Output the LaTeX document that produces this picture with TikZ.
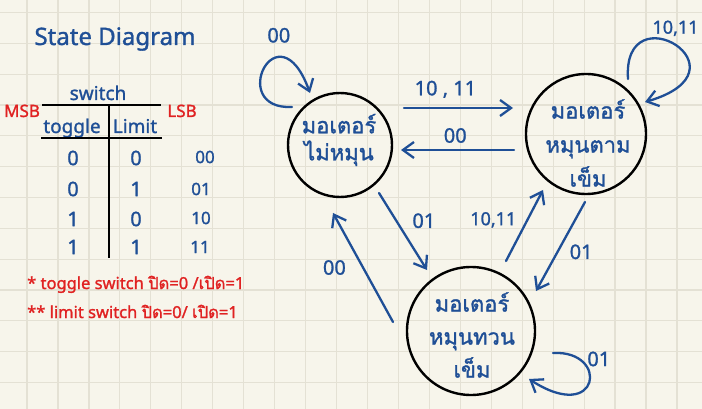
\documentclass[tikz,border=0pt]{standalone}
\usepackage{fontspec}
\setmainfont{Noto Sans}[FakeBold=1.3]
\newfontfamily\thaifont[Script=Thai, FakeBold=1.3]{Loma}
\usetikzlibrary{automata, positioning, arrows.meta}
\definecolor{paper}{HTML}{F7F5EB}
\definecolor{gridline}{HTML}{E4E1D4}
\definecolor{ink}{HTML}{1F4F96}
\definecolor{redink}{HTML}{E02222}
\tikzset{
	>={Straight Barb[length=11pt,width=16pt]}, % open pen-like arrow heads
	every state/.style={draw=black, line width=2.4pt, inner sep=0pt}, % the three motor states
	statetext/.style={text=ink, align=center, inner sep=0pt},
	trans/.style={->, draw=ink, line width=2.3pt, line cap=round}, % transitions between states
	edgetext/.style={text=ink, inner sep=1pt, font=\fontsize{20}{24}\selectfont}, % switch code on a transition
	inktext/.style={text=ink, inner sep=0pt, anchor=base},
	redtext/.style={text=redink, inner sep=0pt, anchor=base},
}

\begin{document}
\begin{tikzpicture}[x=1pt, y=-1pt]
	\useasboundingbox[fill=paper] (0,0) rectangle (702,409);
	\begin{scope}[shift={(27pt,-12.7pt)}]
		\draw[gridline, line width=1.2pt] (-27pt,-396.3pt) grid[xstep=30.95pt, ystep=30.8pt] (675pt,12.7pt);
	\end{scope}

	% truth table of the two switches
	\node[inktext, font=\fontsize{24}{28}\selectfont] (title) at (115,45) {State Diagram};
	\node[inktext, font=\fontsize{19}{22}\selectfont] (switch) at (98,100) {switch};
	\node[redtext, font=\fontsize{17}{20}\selectfont] (msb) at (22,117) {MSB};
	\node[redtext, font=\fontsize{17}{20}\selectfont] (lsb) at (182,117) {LSB};
	\node[inktext, font=\fontsize{19}{22}\selectfont] (toggle) at (72,133) {toggle};
	\node[inktext, font=\fontsize{19}{22}\selectfont] (limit) at (135,133) {Limit};
	\draw[line width=1.6pt] (42,105) -- (161,105);
	\draw[line width=1.6pt] (41,138) -- (162,138);
	\draw[line width=1.6pt] (109,105) -- (109,258);

	\node[edgetext] (t1) at (73,158) {0};
	\node[edgetext] (l1) at (136,158) {0};
	\node[edgetext, font=\fontsize{17}{20}\selectfont] (c1) at (205,157) {00};
	\node[edgetext] (t2) at (73,189) {0};
	\node[edgetext] (l2) at (136,189) {1};
	\node[edgetext, font=\fontsize{17}{20}\selectfont] (c2) at (201,189) {01};
	\node[edgetext] (t3) at (73,219) {1};
	\node[edgetext] (l3) at (136,219) {0};
	\node[edgetext, font=\fontsize{17}{20}\selectfont] (c3) at (201,218) {10};
	\node[edgetext] (t4) at (73,247) {1};
	\node[edgetext] (l4) at (136,247) {1};
	\node[edgetext, font=\fontsize{17}{20}\selectfont] (c4) at (200,247) {11};

	\node[redtext, anchor=base west, font=\fontsize{16.5}{20}\selectfont] (note1) at (27,289) {* toggle switch {\thaifont ปิด}=0 /{\thaifont เปิด}=1};
	\node[redtext, anchor=base west, font=\fontsize{16.5}{20}\selectfont] (note2) at (27,318) {** limit switch {\thaifont ปิด}=0/ {\thaifont เปิด}=1};

	% motor states
	\node[state, minimum size=104pt] (stop) at (340,145) {};
	\node[state, minimum size=120pt] (cw) at (586,134) {};
	\node[state, minimum size=128pt] (ccw) at (471,331) {};
	\node[statetext, font=\thaifont\fontsize{22}{27}\selectfont] (stoptext) at (339,140) {มอเตอร์\\ไม่หมุน};
	\node[statetext, font=\thaifont\fontsize{22}{34}\selectfont] (cwtext) at (588,143) {มอเตอร์\\หมุนตาม\\เข็ม};
	\node[statetext, font=\thaifont\fontsize{22}{33}\selectfont] (ccwtext) at (472,335) {มอเตอร์\\หมุนทวน\\เข็ม};

	\draw[trans] ([shift={(64,-37)}]stop.center) -- node[edgetext, above=8pt, pos=.38] (e1) {10 , 11} ([shift={(-73,-26)}]cw.center);
	\draw[trans] ([shift={(-72,16)}]cw.center) -- node[edgetext, above=5pt, pos=.52] (e2) {00} ([shift={(61,5)}]stop.center);
	\draw[trans] ([shift={(39,48)}]stop.center) -- node[edgetext, right=14pt, pos=.36] (e3) {01} ([shift={(-44,-61)}]ccw.center);
	\draw[trans] ([shift={(-78,-9)}]ccw.center) -- node[edgetext, left=15pt, pos=.5] (e4) {00} ([shift={(-7,68)}]stop.center);
	\draw[trans] ([shift={(35,-70)}]ccw.center) -- node[edgetext, left=9pt, pos=.58, font=\fontsize{18}{22}\selectfont] (e5) {10,11} ([shift={(-43,56)}]cw.center);
	\draw[trans] ([shift={(-1,68)}]cw.center) -- node[edgetext, right=10pt, pos=.56] (e6) {01} ([shift={(65,-40)}]ccw.center);

	% self loops
	\draw[trans] ([shift={(-48,-38)}]stop.center) .. controls +(-66,3) and +(-32,-88) .. node[edgetext, above=16pt, xshift=8pt, pos=.6] (e7) {00} ([shift={(-30,-52)}]stop.center);
	\draw[trans] ([shift={(42,-55)}]cw.center) .. controls +(-6,-89) and +(110,-32) .. node[edgetext, above=7pt, pos=.5, font=\fontsize{18}{22}\selectfont] (e8) {10,11} ([shift={(59,-32)}]cw.center);
	\draw[trans] ([shift={(82,22)}]ccw.center) .. controls +(57,-3) and +(71,46) .. node[edgetext, right=6pt, pos=.2] (e9) {01} ([shift={(58,48)}]ccw.center);

\end{tikzpicture}
\end{document}
